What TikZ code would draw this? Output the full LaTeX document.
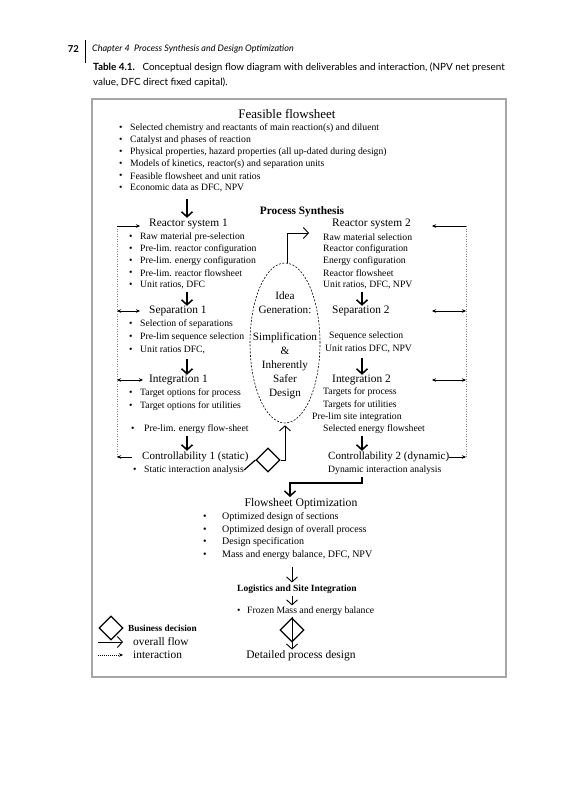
\documentclass[tikz,border=0pt]{standalone}
\usepackage{fontspec}
\setmainfont{Liberation Serif}
\newfontfamily\capfont{Lato}
\usetikzlibrary{arrows.meta,shapes.geometric,positioning}

\tikzset{
  txt/.style={font=\fontsize{9.7}{11}\selectfont, inner sep=0pt, anchor=west},
  rtxt/.style={font=\fontsize{9.7}{11}\selectfont, inner sep=0pt, anchor=west},
  hd/.style={font=\fontsize{11.4}{13}\selectfont, inner sep=0pt, anchor=west},
  big/.style={font=\fontsize{11.7}{13}\selectfont, inner sep=0pt},
  flow/.style={line width=1.5pt, -{Straight Barb[length=5pt,width=11pt]}},
  thinflow/.style={line width=0.9pt, -{Straight Barb[length=5pt,width=11pt]}},
  inter/.style={line width=0.5pt, -{Stealth[length=4pt,width=3.5pt]}},
  biinter/.style={line width=0.5pt, {Stealth[length=4pt,width=3.5pt]}-{Stealth[length=4pt,width=3.5pt]}},
  interline/.style={line width=0.5pt, gray, dash pattern=on 1pt off 1.5pt},
  decision/.style={diamond, draw, line width=1.2pt, minimum width=24pt, minimum height=24pt, inner sep=0pt},
}

\begin{document}
\begin{tikzpicture}[x=1pt,y=1pt]
\useasboundingbox (0,0) rectangle (566,-800);

% page head and caption
\node[anchor=east, inner sep=0pt, font=\capfont\bfseries\fontsize{9.5}{10}\selectfont] (pno) at (79,-49) {72};
\draw[line width=1pt] (85,-40) -- (85,-63);
\node[anchor=west, inner sep=0pt, font=\capfont\itshape\fontsize{9}{10}\selectfont] (chap) at (92,-49)
  {Chapter 4\enspace Process Synthesis and Design Optimization};
\node[anchor=north west, inner sep=0pt, align=left, font=\capfont\fontsize{9.9}{15}\selectfont] (cap) at (93,-63)
  {\textbf{Table 4.1.}\enspace\ Conceptual design flow diagram with deliverables and interaction, (NPV net present\\
   value, DFC direct fixed capital).};
\draw[gray!70, line width=1.2pt] (92,-99) rectangle (506,-677);

% columns of the down arrows
\coordinate (cl) at (187,0);
\coordinate (cr) at (362,0);
\coordinate (cm) at (292,0);

% feasible flowsheet
\node[big, font=\fontsize{13}{15}\selectfont] (feas) at (287,-114) {Feasible flowsheet};
\foreach \y/\t [count=\i] in {128/{Selected chemistry and reactants of main reaction(s) and diluent},
    140/{Catalyst and phases of reaction},
    152/{Physical properties, hazard properties (all up-dated during design)},
    164/{Models of kinetics, reactor(s) and separation units},
    176/{Feasible flowsheet and unit ratios},
    188/{Economic data as DFC, NPV}}
  {\node[txt] (fb\i) at (119,-\y) {\textbullet};
   \node[txt] (f\i) at (130,-\y) {\t};}

\node[font=\bfseries\fontsize{11.3}{13}\selectfont, inner sep=0pt] (psyn) at (302,-212) {Process Synthesis};

% left column
\node[hd] (rs1) at (149,-224) {Reactor system 1};
\foreach \y/\t [count=\i] in {237/{Raw material pre-selection},
    249/{Pre-lim. reactor configuration},
    261/{Pre-lim. energy configuration},
    273/{Pre-lim. reactor flowsheet},
    285/{Unit ratios, DFC}}
  {\node[txt] (rb\i) at (129,-\y) {\textbullet};
   \node[txt] (r\i) at (140,-\y) {\t};}

\node[hd] (sep1) at (149,-311) {Separation 1};
\foreach \y/\t [count=\i] in {324/{Selection of separations},
    337/{Pre-lim sequence selection},
    350/{Unit ratios DFC,}}
  {\node[txt] (sb\i) at (129,-\y) {\textbullet};
   \node[txt] (s\i) at (140,-\y) {\t};}

\node[hd] (int1) at (149,-380) {Integration 1};
\node[txt] (ib1) at (129,-393) {\textbullet};
\node[txt] (i1) at (140,-393) {Target options for process};
\node[txt] (ib2) at (129,-406) {\textbullet};
\node[txt] (i2) at (140,-406) {Target options for utilities};
\node[txt] (ib3) at (131,-429) {\textbullet};
\node[txt] (i3) at (144,-429) {Pre-lim. energy flow-sheet};

\node[hd, font=\fontsize{11}{13}\selectfont] (con1) at (142,-457) {Controllability 1 (static)};
\node[txt] (cb1) at (133,-470) {\textbullet};
\node[txt] (static) at (144,-470) {Static interaction analysis};

\draw[flow] ([yshift=-7pt]f6.south -| cl) -- ([yshift=1pt]rs1.north -| cl);
\draw[flow] ([yshift=-3pt]r5.south -| cl) -- (sep1.north -| cl);
\draw[flow] ([yshift=-5pt]s3.south -| cl) -- (int1.north -| cl);
\draw[flow] ([yshift=-2pt]i3.south -| cl) -- ([yshift=1pt]con1.north -| cl);

% right column
\node[hd] (rs2) at (332,-224) {Reactor system 2};
\foreach \y/\t [count=\i] in {237/{Raw material selection},
    249/{Reactor configuration},
    261/{Energy configuration},
    273/{Reactor flowsheet},
    285/{Unit ratios, DFC, NPV}}
  {\node[rtxt] (q\i) at (323,-\y) {\t};}

\node[hd] (sep2) at (332,-311) {Separation 2};
\node[rtxt] (t1) at (329,-336) {Sequence selection};
\node[rtxt] (t2) at (325,-349) {Unit ratios DFC, NPV};

\node[hd] (int2) at (332,-380) {Integration 2};
\node[rtxt] (u1) at (323,-392) {Targets for process};
\node[rtxt] (u2) at (323,-405) {Targets for utilities};
\node[rtxt] (u3) at (312,-417) {Pre-lim site integration};
\node[rtxt] (u4) at (323,-429) {Selected energy flowsheet};

\node[hd, font=\fontsize{11}{13}\selectfont] (con2) at (328,-457) {Controllability 2 (dynamic)};
\node[rtxt] (dyn) at (328,-470) {Dynamic interaction analysis};

\draw[flow] ([yshift=-3pt]q5.south -| cr) -- (sep2.north -| cr);
\draw[flow] ([yshift=-5pt]t2.south -| cr) -- (int2.north -| cr);
\draw[flow] ([yshift=-2pt]u4.south -| cr) -- ([yshift=1pt]con2.north -| cr);

% interaction lines
\coordinate (ltop) at (117,-226);
\coordinate (lbot) at (117,-457);
\coordinate (lh) at (140,0);
\coordinate (rtop) at (466,-226);
\coordinate (rbot) at (466,-457);
\coordinate (rh) at (432,0);
\draw[interline] (ltop) -- (lbot);
\draw[interline] (rtop) -- (rbot);
\draw[inter] (ltop) -- (ltop -| lh);
\draw[biinter] (ltop |- sep1) -- (sep1 -| lh);
\draw[biinter] (ltop |- int1) -- ([xshift=3pt]int1 -| lh);
\draw[inter] ([xshift=-10pt]con1.west) -- (lbot);
\draw[inter] (rtop) -- (rtop -| rh);
\draw[biinter] (sep2 -| rh) -- (rtop |- sep2);
\draw[biinter] (int2 -| rh) -- (rtop |- int2);
\draw[inter] (con2.east) -- (rbot);

% idea generation
\node[draw, dashed, dash pattern=on 2pt off 1.5pt, line width=0.6pt, ellipse,
      minimum width=70pt, minimum height=160pt, inner sep=0pt] (idea) at (285,-343) {};
\node[align=center, inner sep=0pt, font=\fontsize{11.2}{14}\selectfont] (ideatxt) at (285,-345)
  {Idea\\Generation:\\[13pt]Simplification\\\&\\Inherently\\Safer\\Design};
\draw[thinflow] ([xshift=2pt]idea.north) |- ([xshift=-14pt,yshift=4pt]q1.west);

\node[decision] (dec1) at (268,-460) {};
\draw[line width=1.2pt] (static.east) -- (dec1.west);
\draw[thinflow] (dec1.east) -| ([yshift=-2pt]idea.south);

% flowsheet optimization
\coordinate (jn) at (290,-483);
\draw[flow] ([yshift=-2pt]dyn.south -| cr) |- (jn) -- (290,-497);
\node[big] (fopt) at (301,-504) {Flowsheet Optimization};
\foreach \y/\t [count=\i] in {517/{Optimized design of sections},
    530/{Optimized design of overall process},
    542/{Design specification},
    555/{Mass and energy balance, DFC, NPV}}
  {\node[txt, font=\fontsize{10}{11}\selectfont] (ob\i) at (203,-\y) {\textbullet};
   \node[txt, font=\fontsize{10}{11}\selectfont] (o\i) at (222,-\y) {\t};}

\node[inner sep=0pt, font=\bfseries\fontsize{9.5}{10}\selectfont] (logi) at (297,-589) {Logistics and Site Integration};
\draw[thinflow] ([yshift=-7pt]o4.south -| cm) -- ([yshift=2pt]logi.north -| cm);
\node[txt] (lb1) at (237,-611) {\textbullet};
\node[txt] (froz) at (247,-611) {Frozen Mass and energy balance};
\draw[thinflow] ([yshift=-2pt]logi.south -| cm) -- ([yshift=1pt]froz.north -| cm);

\node[decision] (dec2) at (292,-630) {};
\node[big, font=\fontsize{11.5}{13}\selectfont] (det) at (301,-656) {Detailed process design};
\draw[thinflow] (dec2.north) -- ([yshift=1pt]det.north -| dec2);

% legend
\node[decision] (dec3) at (111,-628) {};
\node[inner sep=0pt, anchor=west, font=\bfseries\fontsize{9.3}{10}\selectfont] (lbus) at (128,-628) {Business decision};
\node[hd] (lflow) at (133,-642) {overall flow};
\node[hd] (linter) at (133,-655) {interaction};
\coordinate (lf0) at (98,-642);
\coordinate (li0) at (98,-655);
\draw[thinflow] (lf0) -- ([xshift=-10pt]lflow.west);
\draw[line width=0.5pt, dash pattern=on 1pt off 1pt, -{Stealth[length=4pt,width=3.5pt]}] (li0) -- ([xshift=-10pt]linter.west);
\end{tikzpicture}
\end{document}
